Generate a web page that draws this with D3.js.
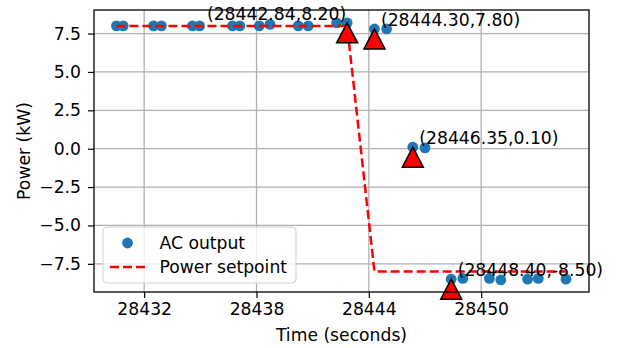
<!DOCTYPE html>
<html>
<head>
<meta charset="utf-8">
<script src="https://cdn.jsdelivr.net/npm/d3@7"></script>
<style>
  body { margin: 0; background: #fff; }
  svg text { font-family: "DejaVu Sans", sans-serif; }
</style>
</head>
<body>
<script>
const width = 619;
const height = 348;

// AC output samples
const times = [28430.52, 28430.88, 28432.50, 28432.92, 28434.58, 28434.96, 28436.72, 28437.11,
  28438.15, 28438.72, 28440.23, 28440.76, 28442.28, 28442.84, 28444.30, 28444.95,
  28446.35, 28447.00, 28448.40, 28449.02, 28450.44, 28451.05, 28452.48, 28453.05, 28454.53];
const power = [8.0, 8.0, 8.0, 8.0, 8.0, 8.0, 8.0, 8.0,
  8.0, 8.1, 8.0, 8.0, 8.2, 8.2, 7.8, 7.8,
  0.1, 0.05, -8.5, -8.45, -8.45, -8.55, -8.5, -8.45, -8.5];
// setpoint at the same sample times
const setpoint = [8, 8, 8, 8, 8, 8, 8, 8,
  8, 8, 8, 8, 8, 8, -8, -8,
  -8, -8, -8, -8, -8, -8, -8, -8, -8];

// annotated points + triangle markers
const annX = [28442.84, 28444.30, 28446.35, 28448.40];
const annY = [8.20, 7.80, 0.10, -8.50];
const markerY = [7.55, 7.15, -0.55, -9.15];

const xTicks = [28432, 28438, 28444, 28450];
const yTicks = [-7.5, -5.0, -2.5, 0.0, 2.5, 5.0, 7.5];

const fontSize = "17.2px";
const margin = { top: 10, right: 30, bottom: 56, left: 94 };

const svg = d3.select("body")
  .append("svg")
  .attr("width", width)
  .attr("height", height);

const x = d3.scaleLinear()
  .domain([28429.32, 28455.76])
  .range([margin.left, width - margin.right]);

const y = d3.scaleLinear()
  .domain([-9.335, 9.035])
  .range([height - margin.bottom, margin.top]);

// grid
svg.append("g")
  .selectAll("line")
  .data(xTicks)
  .join("line")
  .attr("x1", d => x(d)).attr("x2", d => x(d))
  .attr("y1", margin.top).attr("y2", height - margin.bottom)
  .attr("stroke", "#b0b0b0").attr("stroke-width", 1.3);

svg.append("g")
  .selectAll("line")
  .data(yTicks)
  .join("line")
  .attr("y1", d => y(d)).attr("y2", d => y(d))
  .attr("x1", margin.left).attr("x2", width - margin.right)
  .attr("stroke", "#b0b0b0").attr("stroke-width", 1.3);

// axes
const fmtY = d => d3.format(".1f")(d).replace("-", "\u2212");

const xAxis = svg.append("g")
  .attr("transform", `translate(0,${height - margin.bottom})`)
  .call(d3.axisBottom(x).tickValues(xTicks).tickFormat(d3.format("d")).tickSize(6).tickPadding(5));

const yAxis = svg.append("g")
  .attr("transform", `translate(${margin.left},0)`)
  .call(d3.axisLeft(y).tickValues(yTicks).tickFormat(fmtY).tickSize(6).tickPadding(7));

[xAxis, yAxis].forEach(g => {
  g.attr("font-family", null).attr("font-size", null);
  g.select(".domain").remove();
  g.selectAll(".tick line").attr("stroke", "#000").attr("stroke-width", 1.2);
  g.selectAll(".tick text")
    .attr("fill", "#000")
    .style("font-size", fontSize);
});

// scatter
svg.append("g")
  .selectAll("circle")
  .data(times.map((t, i) => [t, power[i]]))
  .join("circle")
  .attr("cx", d => x(d[0]))
  .attr("cy", d => y(d[1]))
  .attr("r", 5.4)
  .attr("fill", "#1f77b4");

// setpoint line
const line = d3.line()
  .x(d => x(d[0]))
  .y(d => y(d[1]));

svg.append("path")
  .datum(times.map((t, i) => [t, setpoint[i]]))
  .attr("d", line)
  .attr("fill", "none")
  .attr("stroke", "#ff0000")
  .attr("stroke-width", 2.5)
  .attr("stroke-dasharray", "9,4");

// triangles
const tri = (cx, cy) => `M${cx},${cy - 10}L${cx + 10.5},${cy + 10}L${cx - 10.5},${cy + 10}Z`;

svg.append("g")
  .selectAll("path")
  .data(annX.map((t, i) => [t, markerY[i]]))
  .join("path")
  .attr("d", d => tri(x(d[0]), y(d[1])))
  .attr("fill", "#ff0000")
  .attr("stroke", "#000")
  .attr("stroke-width", 1.5);

// annotation labels
svg.append("g")
  .selectAll("text")
  .data(annX.map((t, i) => [t, annY[i], i]))
  .join("text")
  .attr("x", d => d[2] === 0 ? x(d[0]) - 1 : x(d[0]) + 6.5)
  .attr("y", d => y(d[1]) - 3)
  .attr("text-anchor", d => d[2] === 0 ? "end" : "start")
  .style("font-size", fontSize)
  .attr("fill", "#000")
  .text(d => `(${d[0].toFixed(2)},${d[1].toFixed(2)})`);

// frame
svg.append("rect")
  .attr("x", margin.left).attr("y", margin.top)
  .attr("width", width - margin.left - margin.right)
  .attr("height", height - margin.top - margin.bottom)
  .attr("fill", "none")
  .attr("stroke", "#000")
  .attr("stroke-width", 1.3);

// axis labels
svg.append("text")
  .attr("x", (margin.left + width - margin.right) / 2)
  .attr("y", 341)
  .attr("text-anchor", "middle")
  .style("font-size", fontSize)
  .text("Time (seconds)");

svg.append("text")
  .attr("transform", `translate(30,${(margin.top + height - margin.bottom) / 2}) rotate(-90)`)
  .attr("text-anchor", "middle")
  .style("font-size", fontSize)
  .text("Power (kW)");

// legend
const legend = svg.append("g").attr("transform", "translate(103,227)");
legend.append("rect")
  .attr("width", 193).attr("height", 56)
  .attr("rx", 4)
  .attr("fill", "#fff").attr("fill-opacity", 0.8)
  .attr("stroke", "#d0d0d0").attr("stroke-width", 1);
legend.append("circle")
  .attr("cx", 24.5).attr("cy", 16)
  .attr("r", 5.4).attr("fill", "#1f77b4");
legend.append("text")
  .attr("x", 56.5).attr("y", 22)
  .style("font-size", fontSize)
  .text("AC output");
legend.append("line")
  .attr("x1", 7).attr("x2", 42)
  .attr("y1", 40).attr("y2", 40)
  .attr("stroke", "#ff0000").attr("stroke-width", 2.5)
  .attr("stroke-dasharray", "9,4");
legend.append("text")
  .attr("x", 56.5).attr("y", 46)
  .style("font-size", fontSize)
  .text("Power setpoint");
</script>
</body>
</html>
